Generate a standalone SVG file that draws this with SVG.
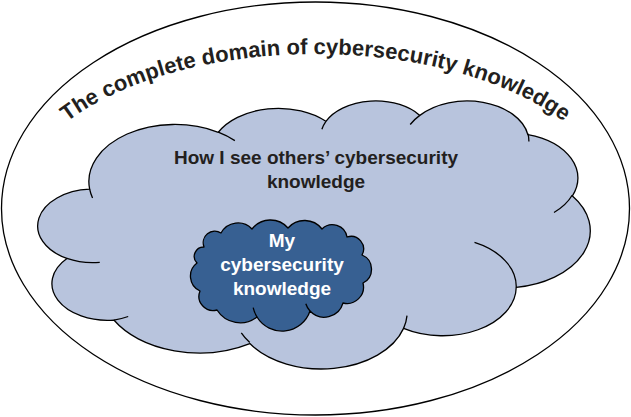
<svg xmlns="http://www.w3.org/2000/svg" xmlns:xlink="http://www.w3.org/1999/xlink" width="631" height="417" viewBox="0 0 631 417">
  <style>
    .ln { stroke: #000; stroke-width: 1.3; vector-effect: non-scaling-stroke; stroke-linejoin: round; }
    .t { font-family: "Liberation Sans", Arial, sans-serif; font-weight: bold; font-size: 19px; text-anchor: middle; }
  </style>
  <defs>
    <path id="arcText" d="M 15.5,208.5 A 300,154.5 0 0 1 615.5,208.5"/>
  </defs>
  <g id="domain">
    <ellipse cx="315.5" cy="208.5" rx="314" ry="206.5" fill="#fff" class="ln"/>
    <text class="t" style="font-size:22px" fill="#231F20"><textPath xlink:href="#arcText" href="#arcText" startOffset="50%">The complete domain of cybersecurity knowledge</textPath></text>
  </g>
  <g id="others">
    <g transform="translate(40,100) scale(0.0127315,0.0062037)">
      <path class="ln" fill="#B8C4DD" d="M3900,14370 A6753,9190 0 0 1 14005,5202 A5333,7267 0 0 1 22457,3430 A4365,5945 0 0 1 29834,2480 A4857,6595 0 0 1 38320,5574 A5333,7273 0 0 1 41820,15458 A6775,9220 0 0 1 37405,30200 A5785,7867 0 0 1 28557,36811 A6752,9215 0 0 1 16482,39263 A7720,10543 0 0 1 5804,35470 A4360,5918 0 0 1 2114,25547 A4345,5945 0 0 1 3900,14370 Z"/>
      <path class="ln" fill="none" d="M4693,26177 A4345,5945 0 0 1 2114,25547 M6928,34899 A4360,5918 0 0 1 5804,35470 M16478,39090 A6752,9215 0 0 1 15813,37521 M28827,34751 A6752,9215 0 0 1 28557,36811 M34129,22954 A5785,7867 0 0 1 37405,30200 M41798,15354 A5333,7273 0 0 1 40372,18134 M38324,5426 A4857,6595 0 0 1 38400,6690 M29078,3952 A4857,6595 0 0 1 29834,2480 M22141,4720 A4365,5945 0 0 1 22457,3430 M14000,5192 A6753,9190 0 0 1 15305,6550 M4127,15789 A6753,9190 0 0 1 3900,14370"/>
    </g>
    <text class="t" fill="#231F20" x="316" y="164">How I see others’ cybersecurity</text>
    <text class="t" fill="#231F20" x="316" y="188">knowledge</text>
  </g>
  <g id="mine">
    <path class="ln" fill="#376092" d="M204,247 A11.6,11.6 0 0 1 221,233 A19.3,19.3 0 0 1 252,229 A23.3,23.3 0 0 1 288,228 A22.1,22.1 0 0 1 322,229 A14.8,14.8 0 0 1 347,237 A12.6,12.6 0 0 1 362,255 A15.4,15.4 0 0 1 363,283 A16.5,16.5 0 0 1 343,303 A19.5,19.5 0 0 1 310,311 A29.4,29.4 0 0 1 257,317 A27.4,27.4 0 0 1 217,310 A14.2,14.2 0 0 1 200,291 A16.4,16.4 0 0 1 197,263 A9.4,9.4 0 0 1 204,247 Z"/>
    <path class="ln" fill="none" d="M257,317 A29.4,29.4 0 0 1 253.2,307.7 M310,311 A19.5,19.5 0 0 1 305.8,303.8"/>
    <text class="t" fill="#fff" x="282" y="247">My</text>
    <text class="t" fill="#fff" x="282" y="271">cybersecurity</text>
    <text class="t" fill="#fff" x="282" y="294.5">knowledge</text>
  </g>
</svg>
